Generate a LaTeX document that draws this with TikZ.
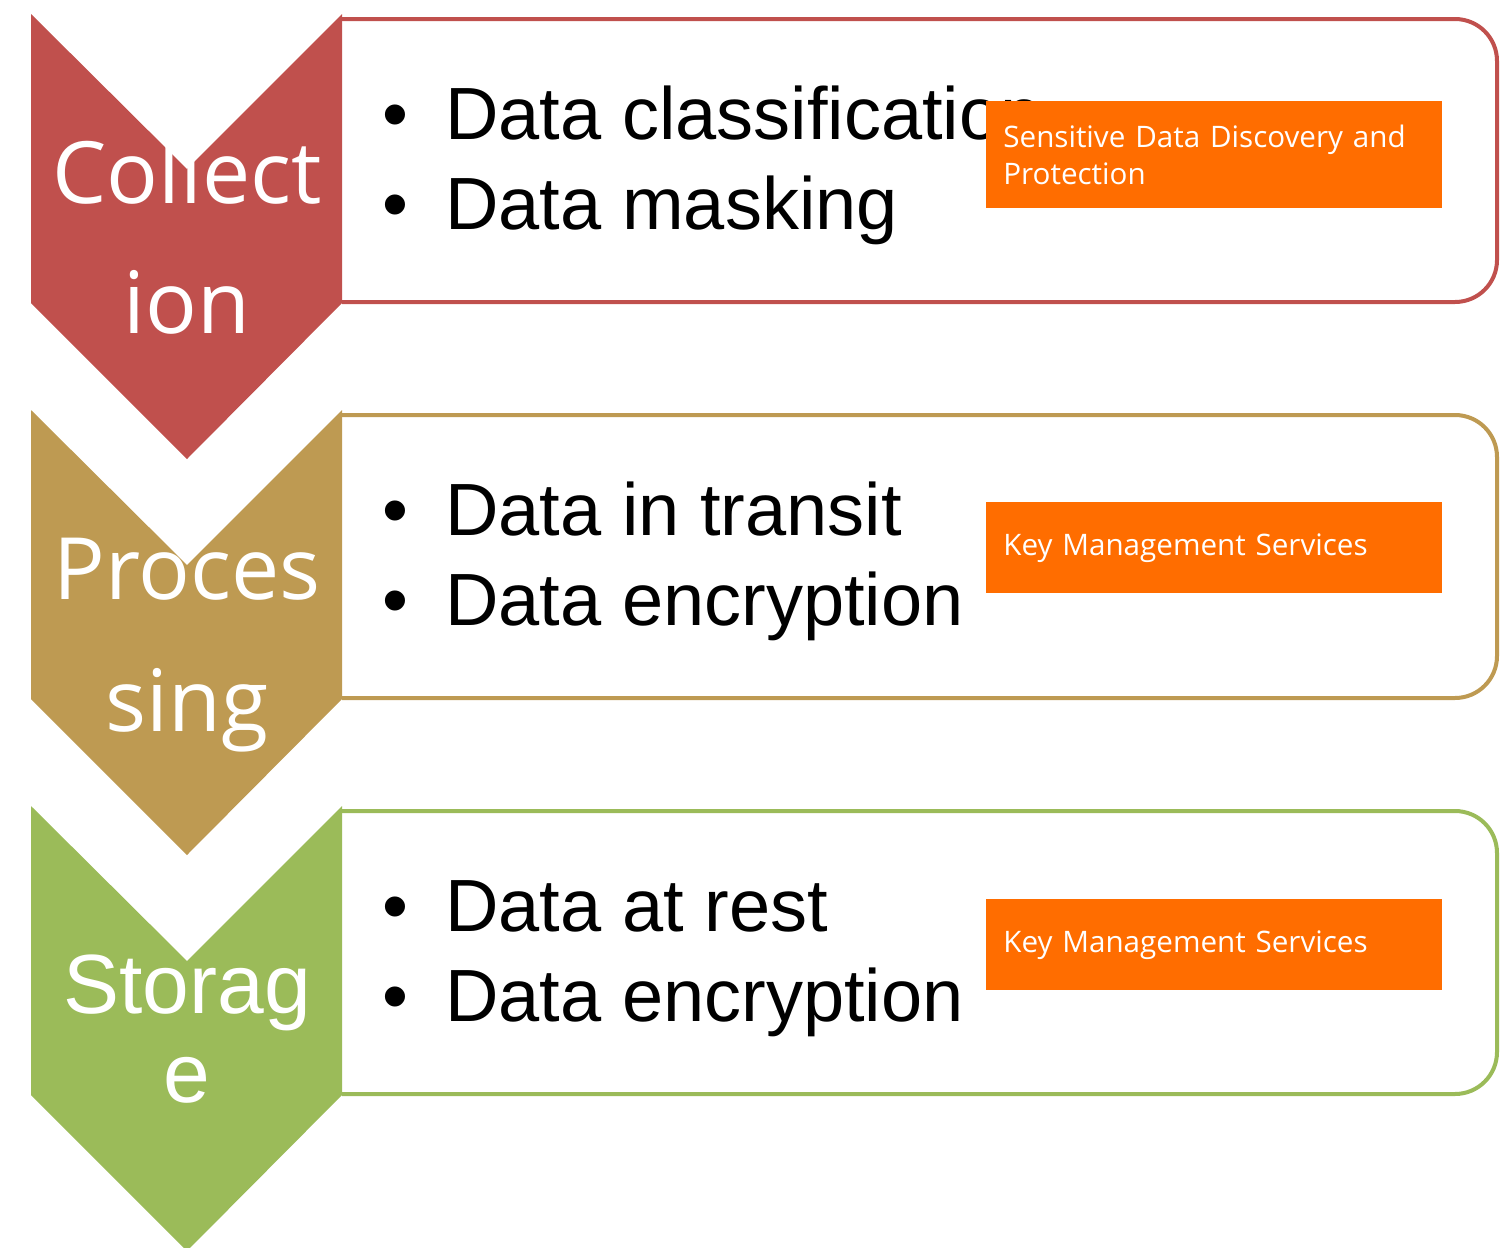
\documentclass[tikz,border=0pt]{standalone}
\usepackage{xcolor}
\usepackage{fontspec}
\setmainfont{Liberation Sans}
\newfontfamily\stagefont{Open Sans}

\definecolor{collectred}{HTML}{C0504D}
\definecolor{processtan}{HTML}{BE9A52}
\definecolor{storegreen}{HTML}{9BBB59}
\definecolor{tagorange}{HTML}{FF6D00}

\newcommand{\bul}{\makebox[31.5pt][l]{\textbullet}}

\begin{document}
\begin{tikzpicture}[
  x=0.5pt,y=-0.5pt, % one unit is one pixel of the layout, y grows downwards
  frame/.style={line width=2pt,rounded corners=21pt}, % open frame right of a chevron
  stage text/.style={anchor=base,inner sep=0pt,text=white,font=\stagefont\fontsize{43}{50}\selectfont},
  arial stage text/.style={anchor=base,inner sep=0pt,text=white,font=\fontsize{42}{50}\selectfont},
  bullet text/.style={anchor=base west,inner sep=0pt,font=\fontsize{37}{45}\selectfont},
  tag box/.style={anchor=north west,fill=tagorange,text=white,minimum width=228pt,
    text width=211pt,inner xsep=8.5pt,align=left,font=\stagefont\fontsize{14.8}{18.5}\selectfont} % orange service tag
  ]

  \useasboundingbox (0,0) rectangle (1500,1248);

  % frames
  \draw[frame,draw=collectred] (342,19) -- (1497,19) -- (1497,302) -- (342,302);
  \draw[frame,draw=processtan] (342,415) -- (1497,415) -- (1497,698) -- (342,698);
  \draw[frame,draw=storegreen] (342,811) -- (1497,811) -- (1497,1094) -- (342,1094);

  % bullet lists
  \node[bullet text] (classify) at (382,139) {\bul Data classification};
  \node[bullet text] (masking) at (382,229) {\bul Data masking};
  \node[bullet text] (transit) at (382,535) {\bul Data in transit};
  \node[bullet text] (encrypt1) at (382,625) {\bul Data encryption};
  \node[bullet text] (rest) at (382,931) {\bul Data at rest};
  \node[bullet text] (encrypt2) at (382,1021) {\bul Data encryption};

  % service tags
  \node[tag box,minimum height=53.5pt] (sddp) at (986,101) {Sensitive Data Discovery and\\Protection};
  \node[tag box,minimum height=45.5pt] (kms1) at (986,502) {Key Management Services};
  \node[tag box,minimum height=45.5pt] (kms2) at (986,899) {Key Management Services};

  % chevrons
  \fill[collectred] (31,14) -- (187,169) -- (342,14) -- (342,303) -- (187,459) -- (31,303) -- cycle;
  \fill[processtan] (31,410) -- (187,565) -- (342,410) -- (342,699) -- (187,855) -- (31,699) -- cycle;
  \fill[storegreen] (31,806) -- (187,961) -- (342,806) -- (342,1095) -- (187,1251) -- (31,1095) -- cycle;

  \node[stage text] (collect) at (187,203) {Collect};
  \node[stage text] (collect2) at (187,333) {ion};
  \node[stage text] (process) at (187,599) {Proces};
  \node[stage text] (process2) at (187,731) {sing};
  \node[arial stage text] (store) at (187,1013) {Storag};
  \node[arial stage text] (store2) at (187,1102) {e};
\end{tikzpicture}
\end{document}
